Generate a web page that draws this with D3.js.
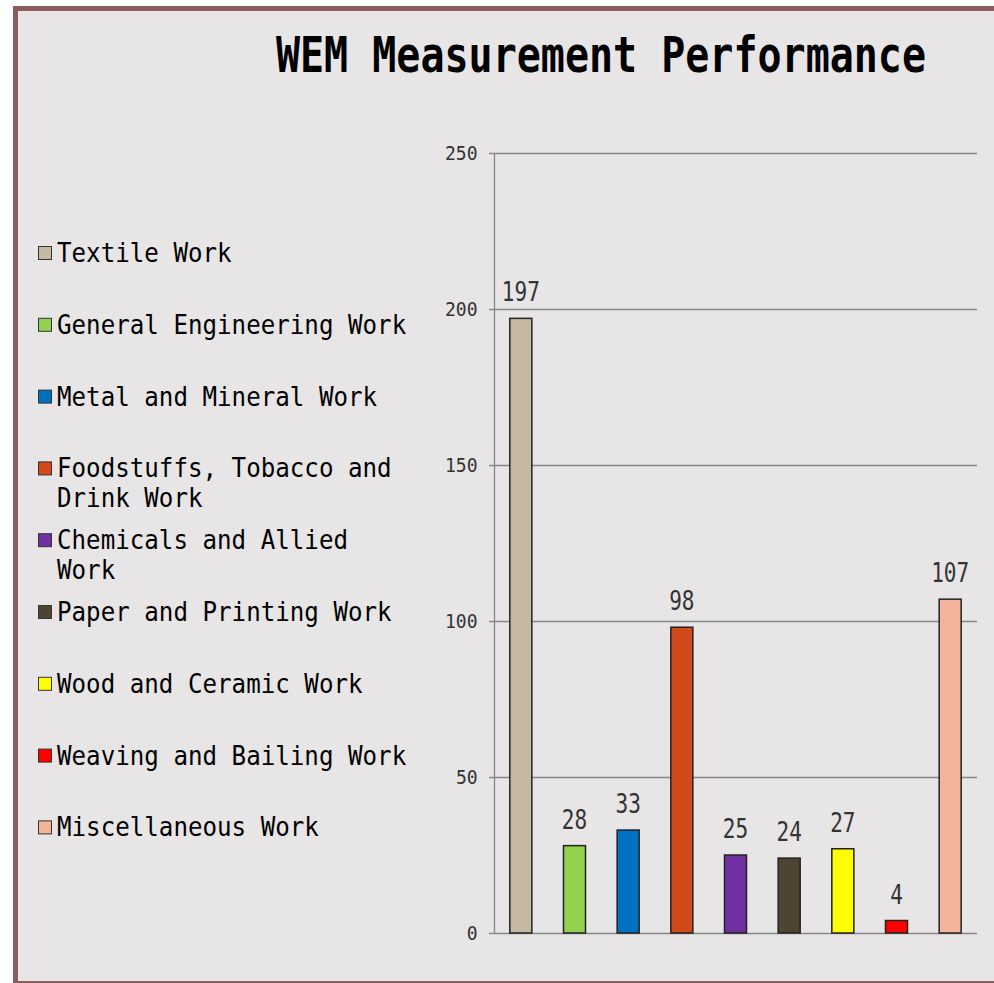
<!DOCTYPE html>
<html>

<head>
  <meta charset="utf-8" />
  <title>WEM Measurement Performance</title>
  <style>
    body {
      margin: 0;
      background: #fff;
    }

    svg text {
      font-family: "DejaVu Sans Mono", "Liberation Mono", monospace;
    }

    .grid line {
      stroke: #878787;
      stroke-width: 1.3px;
    }

    .bars rect {
      stroke: #222;
      stroke-width: 1.5px;
    }
  </style>
</head>

<body>
  <svg></svg>

  <script src="https://d3js.org/d3.v7.min.js"></script>
  <script>
    // data
    var categories = ["Textile Work", "General Engineering Work", "Metal and Mineral Work",
      "Foodstuffs, Tobacco and Drink Work", "Chemicals and Allied Work", "Paper and Printing Work",
      "Wood and Ceramic Work", "Weaving and Bailing Work", "Miscellaneous Work"];
    var values = [197, 28, 33, 98, 25, 24, 27, 4, 107];
    var colors = ["#c6b9a4", "#92d050", "#0070c0", "#d24a19", "#7030a0", "#4e4433",
      "#ffff00", "#ff0000", "#f4b39b"];
    var yTicks = [0, 50, 100, 150, 200, 250];

    var width = 994,
      height = 983;
    var svg = d3.select("svg")
      .attr("width", width)
      .attr("height", height);

    // frame
    svg.append("rect")
      .attr("x", 15.5).attr("y", 8.5)
      .attr("width", 1000).attr("height", 975)
      .attr("fill", "#e7e5e6")
      .attr("stroke", "#8b5d5c")
      .attr("stroke-width", 5);

    var plot = { left: 494, right: 977, top: 153, bottom: 933 };

    var x = d3.scaleBand()
      .domain(categories)
      .range([plot.left, plot.right])
      .paddingInner(0.59)
      .paddingOuter(0.295);

    var y = d3.scaleLinear()
      .domain([0, 250])
      .range([plot.bottom, plot.top]);

    // title
    svg.append("text")
      .attr("transform", "translate(601,72) scale(0.8,1)")
      .attr("text-anchor", "middle")
      .attr("font-size", 50)
      .attr("font-weight", "bold")
      .attr("fill", "#000")
      .text("WEM Measurement Performance");

    // gridlines + tick labels
    var axis = svg.append("g")
      .attr("class", "grid")
      .attr("transform", "translate(489,0)")
      .call(d3.axisLeft(y)
        .tickValues(yTicks)
        .tickSizeInner(-(plot.right - 489))
        .tickSizeOuter(0)
        .tickPadding(12));
    axis.select(".domain").remove();
    axis.selectAll("text")
      .attr("font-size", 19)
      .attr("fill", "#333")
      .attr("transform", "scale(0.95,1)");

    svg.append("line")
      .attr("x1", plot.left + 0.5).attr("x2", plot.left + 0.5)
      .attr("y1", plot.top).attr("y2", plot.bottom)
      .attr("stroke", "#878787")
      .attr("stroke-width", 1.3);

    // bars
    svg.append("g")
      .attr("class", "bars")
      .selectAll("rect")
      .data(values)
      .enter()
      .append("rect")
      .attr("x", (d, i) => x(categories[i]))
      .attr("width", x.bandwidth())
      .attr("y", d => y(d))
      .attr("height", d => y(0) - y(d))
      .attr("fill", (d, i) => colors[i]);

    // value labels
    svg.append("g")
      .selectAll("text")
      .data(values)
      .enter()
      .append("text")
      .attr("transform", (d, i) => "translate(" + (x(categories[i]) + x.bandwidth() / 2) + "," + (y(d) - 17) + ") scale(0.81,1)")
      .attr("text-anchor", "middle")
      .attr("font-size", 26)
      .attr("fill", "#333")
      .text(d => d);

    // legend (wrap at 24 characters)
    function wrap(s, max) {
      var lines = [], cur = "";
      s.split(" ").forEach(function (w) {
        if (cur && (cur + " " + w).length > max) { lines.push(cur); cur = w; }
        else cur = cur ? cur + " " + w : w;
      });
      lines.push(cur);
      return lines;
    }

    var legend = svg.append("g")
      .selectAll("g")
      .data(categories)
      .enter()
      .append("g")
      .attr("transform", (d, i) => "translate(0," + (262 + i * 71.8) + ")");

    legend.append("rect")
      .attr("x", 38.5).attr("y", -15.5)
      .attr("width", 13).attr("height", 13)
      .attr("fill", (d, i) => colors[i])
      .attr("stroke", "#333")
      .attr("stroke-width", 1);

    legend.each(function (d) {
      var g = d3.select(this);
      wrap(d, 24).forEach(function (line, k) {
        g.append("text")
          .attr("transform", "translate(57," + (k * 30) + ") scale(0.93,1)")
          .attr("font-size", 26)
          .attr("fill", "#000")
          .text(line);
      });
    });
  </script>
</body>

</html>
